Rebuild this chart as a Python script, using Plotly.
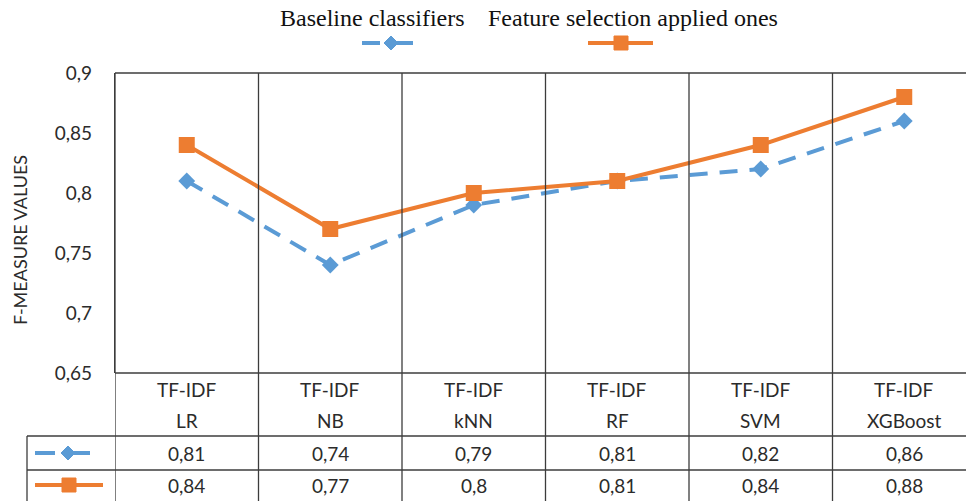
import plotly.graph_objects as go

# ---- data ----
categories = ["LR", "NB", "kNN", "RF", "SVM", "XGBoost"]
feature_prefix = "TF-IDF"
baseline = [0.81, 0.74, 0.79, 0.81, 0.82, 0.86]
feature_sel = [0.84, 0.77, 0.80, 0.81, 0.84, 0.88]
series_names = ["Baseline classifiers", "Feature selection applied ones"]
y_ticks = [0.65, 0.70, 0.75, 0.80, 0.85, 0.90]
y_title = "F-MEASURE VALUES"

# ---- style ----
W, H = 966, 501
BLUE = "#5B9BD5"
ORANGE = "#ED7D31"
GRID = "#3c3c3c"
TXT = "#2b2b2b"
SANS = "Lato"
SERIF = "Liberation Serif"

PLOT_L, PLOT_T, PLOT_B = 115, 73, 373
CAT_W = 143.5


def px(x):
    return x / W


def py(y):
    return 1 - y / H


def fmt(v):
    return f"{v:g}".replace(".", ",")


fig = go.Figure()
fig.add_trace(go.Scatter(
    x=categories, y=baseline, mode="lines+markers", name=series_names[0],
    line=dict(color=BLUE, width=4, dash="18px,12px"),
    marker=dict(symbol="diamond", size=13, color=BLUE),
))
fig.add_trace(go.Scatter(
    x=categories, y=feature_sel, mode="lines+markers", name=series_names[1],
    line=dict(color=ORANGE, width=4),
    marker=dict(symbol="square", size=16, color=ORANGE),
))

shapes = []
# top border
shapes.append(dict(type="line", xref="paper", yref="paper", x0=px(PLOT_L), x1=1,
                   y0=py(PLOT_T), y1=py(PLOT_T), line=dict(color=GRID, width=1.3)))
# vertical category separators through chart and table
for i in range(len(categories)):
    shapes.append(dict(type="line", xref="x", yref="paper", x0=i - 0.5, x1=i - 0.5,
                       y0=0, y1=py(PLOT_T), line=dict(color=GRID, width=1.3)))
# table horizontal lines
for y, x0 in [(PLOT_B, PLOT_L), (436, 27), (470, 27)]:
    shapes.append(dict(type="line", xref="paper", yref="paper", x0=px(x0), x1=1,
                       y0=py(y), y1=py(y), line=dict(color=GRID, width=1.3)))
# table legend column left edge
shapes.append(dict(type="line", xref="paper", yref="paper", x0=px(27), x1=px(27),
                   y0=0, y1=py(436), line=dict(color=GRID, width=1.3)))


def hline(x0, x1, y, color):
    return dict(type="line", xref="paper", yref="paper", x0=px(x0), x1=px(x1),
                y0=py(y), y1=py(y), line=dict(color=color, width=4))


def diamond(cx, cy, r, color):
    p = (f"M {px(cx - r)} {py(cy)} L {px(cx)} {py(cy - r)} "
         f"L {px(cx + r)} {py(cy)} L {px(cx)} {py(cy + r)} Z")
    return dict(type="path", xref="paper", yref="paper", path=p,
                fillcolor=color, line=dict(color=color, width=1))


def square(cx, cy, r, color):
    return dict(type="rect", xref="paper", yref="paper", x0=px(cx - r), x1=px(cx + r),
                y0=py(cy + r), y1=py(cy - r), fillcolor=color, line=dict(color=color, width=1))


# legend keys (top)
shapes += [hline(362, 380, 43, BLUE), hline(386, 413, 43, BLUE), diamond(391, 43, 7, BLUE)]
shapes += [hline(588, 653, 43, ORANGE), square(621, 43, 7, ORANGE)]
# legend keys (table)
shapes += [hline(35, 55, 453, BLUE), hline(62, 90, 453, BLUE), diamond(68, 453, 7, BLUE)]
shapes += [hline(35, 103, 485, ORANGE), square(69, 485, 7, ORANGE)]

annotations = []


def ann(text, x, y, font, xref="paper", angle=0):
    return dict(text=text, x=x, y=y, xref=xref, yref="paper", xanchor="center",
                yanchor="middle", showarrow=False, textangle=angle, font=font)


# legend text
lfont = dict(family=SERIF, size=24, color="#111")
annotations.append(ann(series_names[0], px(372), py(18), lfont))
annotations.append(ann(series_names[1], px(633), py(18), lfont))
# y title
annotations.append(ann(y_title, px(20), py(240), dict(family=SANS, size=18, color=TXT), angle=-90))
# table text
tfont = dict(family=SANS, size=19, color=TXT)
for i, cat in enumerate(categories):
    for text, yy in [(feature_prefix, 389), (cat, 420), (fmt(baseline[i]), 453), (fmt(feature_sel[i]), 485)]:
        annotations.append(ann(text, cat, py(yy), tfont, xref="x"))

fig.update_layout(
    width=W, height=H,
    margin=dict(l=0, r=0, t=0, b=0),
    paper_bgcolor="white", plot_bgcolor="white",
    showlegend=False,
    xaxis=dict(domain=[px(PLOT_L), 1], range=[-0.5, -0.5 + (W - PLOT_L) / CAT_W],
               showticklabels=False, showgrid=False, zeroline=False, showline=False,
               ticks="", automargin=False),
    yaxis=dict(domain=[py(PLOT_B), py(PLOT_T)], range=[0.65, 0.9],
               tickvals=y_ticks, ticktext=[fmt(v) for v in y_ticks],
               showgrid=False, zeroline=False, showline=True, linecolor=GRID, linewidth=1.3,
               ticks="", ticklabelstandoff=18, automargin=False,
               tickfont=dict(family=SANS, size=19, color=TXT)),
    shapes=shapes,
    annotations=annotations,
)

fig.write_html("out.html", config={"displayModeBar": False},
               post_script="document.body.style.margin='0';")
